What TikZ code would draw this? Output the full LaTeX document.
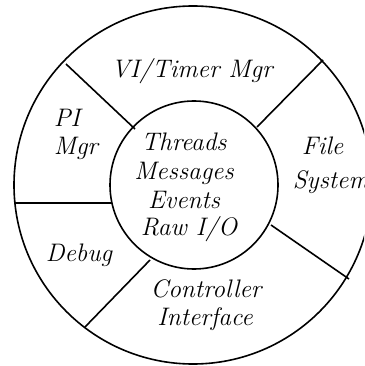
\documentclass[tikz,border=0pt]{standalone}
\usepackage{tikz}

\tikzset{lbl/.style={font=\fontsize{19}{21}\selectfont\itshape, inner sep=0pt, anchor=base}}

\begin{document}
\begin{tikzpicture}[x=0.75pt,y=-0.75pt,line width=1.2pt]
  \useasboundingbox (0,0) rectangle (364,366);
  \clip (0,0) rectangle (364,366);
  % the two rings
  \coordinate (outc) at (193,185);
  \coordinate (inc) at (194,185);
  \draw (outc) circle (134.25pt);
  \draw (inc) circle (63pt);
  % spokes between the rings
  \coordinate (ul1) at (66,64);   \coordinate (ul2) at (135,129);
  \coordinate (ur1) at (323,60);  \coordinate (ur2) at (257,127);
  \coordinate (l1) at (14,203);   \coordinate (l2) at (112,203);
  \coordinate (ll1) at (85,327);  \coordinate (ll2) at (150,260);
  \coordinate (lr1) at (349,279); \coordinate (lr2) at (271,225);
  \draw (ul1) -- (ul2);
  \draw (ur1) -- (ur2);
  \draw (l1) -- (l2);
  \draw (ll1) -- (ll2);
  \draw (lr1) -- (lr2);
  % labels
  \node[lbl] (kernel) at (184,151) {Threads};
  \node[lbl] (msgs) at (184,180) {Messages};
  \node[lbl] (events) at (184,208) {Events};
  \node[lbl] (rawio) at (189,235) {Raw I/O};
  \node[lbl] (vitimer) at (192,78) {VI/Timer Mgr};
  \node[lbl,anchor=base west] (pimgr) at (53,127) {PI};
  \node[lbl,anchor=base west] (pimgr2) at (53,155) {Mgr};
  \node[lbl,anchor=base west] (file) at (301,155) {File};
  \node[lbl,anchor=base west] (system) at (292,189) {System};
  \node[lbl] (debug) at (79,261) {Debug};
  \node[lbl] (ctrl) at (206,297) {Controller};
  \node[lbl] (iface) at (205,325) {Interface};
\end{tikzpicture}
\end{document}
